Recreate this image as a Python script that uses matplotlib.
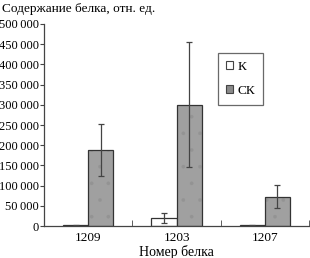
import matplotlib
matplotlib.use("Agg")
import matplotlib.pyplot as plt
import numpy as np
from matplotlib.patches import Patch
from matplotlib.ticker import FuncFormatter, MultipleLocator

categories = ["1209", "1203", "1207"]
k_values = [2000, 20000, 2000]
k_err = [1000, 13000, 1000]
ck_values = [188000, 300000, 73000]
ck_err = [65000, 155000, 29000]
series_labels = ["К", "СК"]

plt.rcParams['font.family'] = ['Liberation Serif', 'DejaVu Serif']
plt.rcParams['hatch.linewidth'] = 0.2

fig = plt.figure(figsize=(3.10, 2.58), dpi=100)
ax = fig.add_axes([0.142, 0.124, 0.855, 0.783])

x = np.arange(len(categories))
w = 0.285
ek = dict(ecolor='#444444', elinewidth=0.9, capsize=2.5, capthick=0.9)
ax.bar(x - w/2, k_values, w, color='white', edgecolor='#333333', linewidth=0.9,
       yerr=k_err, error_kw=ek, zorder=2)
# dotted gray fill, then outline with error bars
ax.bar(x + w/2, ck_values, w, color='#a0a0a0', edgecolor='#939393', linewidth=0,
       hatch='.', zorder=2)
ax.bar(x + w/2, ck_values, w, fill=False, edgecolor='#333333', linewidth=0.9,
       yerr=ck_err, error_kw=ek, zorder=3)

ax.set_xlim(-0.5, 2.5)
ax.set_ylim(0, 500000)
ax.yaxis.set_major_locator(MultipleLocator(50000))
ax.yaxis.set_major_formatter(FuncFormatter(
    lambda v, p: "0" if v == 0 else f"{int(v):,}".replace(",", "\u2009")))
ax.set_xticks(x)
ax.set_xticklabels(categories)
ax.tick_params(axis='x', length=0, labelsize=9.5, pad=4)
ax.set_xticks([0.5, 1.5, 2.5], minor=True)
ax.tick_params(axis='x', which='minor', direction='in', length=4, color='#444444')
ax.tick_params(axis='y', direction='out', length=3, labelsize=9, pad=0.5, color='#444444')
for s in ['top', 'right']:
    ax.spines[s].set_visible(False)
for s in ['left', 'bottom']:
    ax.spines[s].set_color('#444444')
    ax.spines[s].set_linewidth(0.9)

ax.set_xlabel("Номер белка", fontsize=10, labelpad=1)
fig.text(0.005, 0.965, "Содержание белка, отн. ед.", fontsize=9.5, va='center', ha='left')

handles = [Patch(facecolor='white', edgecolor='#444444', linewidth=0.8),
           Patch(facecolor='#8a8a8a', edgecolor='#444444', linewidth=0.8)]
leg = ax.legend(handles, series_labels, loc='upper left', bbox_to_anchor=(0.657, 0.857),
                frameon=True, fancybox=False, edgecolor='#444444', fontsize=9.5,
                handlelength=0.55, handleheight=0.55, handletextpad=0.3,
                labelspacing=0.9, borderpad=0.6, borderaxespad=0)
leg.get_frame().set_linewidth(0.9)

fig.savefig("out.png", dpi=100)
